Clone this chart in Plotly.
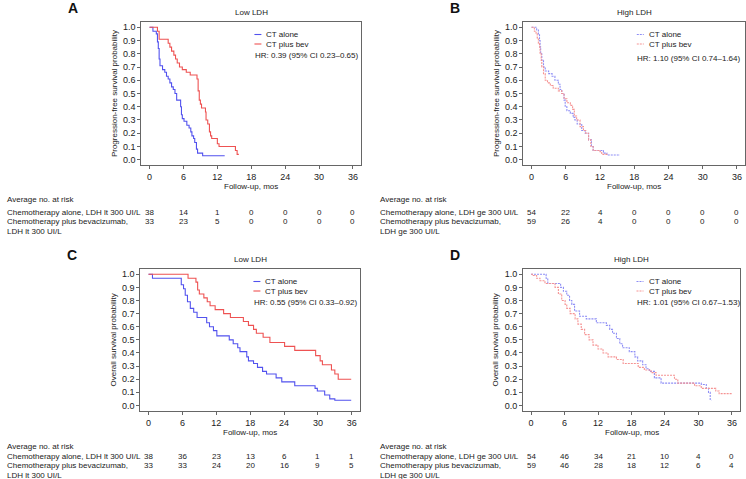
import plotly.graph_objects as go

W, H = 746, 479

# ---------------- data ----------------
x_ticks = [0, 6, 12, 18, 24, 30, 36]
y_ticks = [0.0, 0.1, 0.2, 0.3, 0.4, 0.5, 0.6, 0.7, 0.8, 0.9, 1.0]
risk_times = [0, 6, 12, 18, 24, 30, 36]

# Panel A: PFS, low LDH
a_alone_t = [0, 0.6, 1.2, 1.4, 1.55, 1.7, 1.85, 2.3, 2.7, 3.0, 3.3, 3.6, 3.9, 4.2, 4.5, 4.8,
             5.5, 5.65, 5.8, 6.1, 6.6, 7.0, 7.3, 7.5, 7.8, 8.0, 8.3, 8.5, 9.4, 13.3]
a_alone_s = [1.0, 0.97, 0.95, 0.89, 0.84, 0.76, 0.71, 0.68, 0.66, 0.63, 0.61, 0.58, 0.55, 0.53, 0.50, 0.45,
             0.40, 0.34, 0.31, 0.29, 0.26, 0.24, 0.21, 0.18, 0.16, 0.13, 0.08, 0.05, 0.03, 0.03]
a_bev_t = [0, 1.4, 1.7, 3.3, 3.6, 3.9, 4.3, 4.6, 4.9, 5.3, 5.8, 6.5, 7.2, 8.4, 8.6, 8.8, 9.0, 9.2,
           9.9, 10.0, 10.3, 10.6, 10.8, 11.0, 12.0, 12.3, 15.2, 15.5, 15.8]
a_bev_s = [1.0, 0.97, 0.91, 0.88, 0.85, 0.82, 0.79, 0.76, 0.73, 0.70, 0.68, 0.66, 0.64, 0.61, 0.52, 0.45, 0.42, 0.39,
           0.36, 0.30, 0.27, 0.21, 0.18, 0.16, 0.12, 0.10, 0.07, 0.04, 0.04]

# Panel B: PFS, high LDH
b_alone_t = [0, 0.9, 1.2, 1.4, 1.5, 1.6, 1.8, 2.1, 2.4, 3.0, 3.6, 4.1, 4.7, 5.0, 5.3, 5.7, 5.9, 6.2,
             6.8, 7.3, 7.6, 8.0, 8.8, 9.4, 10.0, 10.5, 10.8, 12.6, 13.2, 15.5]
b_alone_s = [1.0, 0.98, 0.95, 0.90, 0.85, 0.80, 0.75, 0.70, 0.67, 0.65, 0.63, 0.60, 0.57, 0.53, 0.50, 0.45, 0.40, 0.37,
             0.35, 0.32, 0.30, 0.27, 0.22, 0.20, 0.15, 0.10, 0.07, 0.05, 0.035, 0.035]
b_bev_t = [0, 0.5, 0.8, 1.0, 1.2, 1.4, 1.5, 1.7, 1.8, 2.1, 2.4, 2.8, 3.3, 3.8, 4.7, 5.3, 5.7, 6.2,
           6.8, 7.2, 7.5, 7.9, 8.5, 9.1, 9.5, 10.0, 10.4, 10.8, 12.0, 12.3, 13.2]
b_bev_s = [1.0, 0.97, 0.95, 0.92, 0.88, 0.85, 0.80, 0.75, 0.70, 0.65, 0.60, 0.58, 0.56, 0.54, 0.52, 0.50, 0.46, 0.43,
           0.41, 0.38, 0.33, 0.30, 0.25, 0.22, 0.20, 0.15, 0.10, 0.07, 0.06, 0.04, 0.03]

# Panel C: OS, low LDH
c_alone_t = [0, 0.7, 4.5, 5.8, 6.2, 6.5, 6.9, 7.4, 8.0, 8.6, 10.3, 10.8, 11.5, 12.1, 14.3, 15.0, 15.8, 16.2,
             17.4, 17.7, 18.6, 19.3, 20.2, 20.9, 22.6, 23.6, 25.9, 29.5, 29.9, 31.2, 32.1, 33.0, 35.9]
c_alone_s = [1.0, 0.97, 0.97, 0.92, 0.89, 0.84, 0.79, 0.74, 0.71, 0.67, 0.63, 0.60, 0.57, 0.53, 0.50, 0.47, 0.44, 0.41,
             0.37, 0.34, 0.32, 0.29, 0.26, 0.24, 0.21, 0.18, 0.15, 0.13, 0.11, 0.08, 0.05, 0.04, 0.04]
c_bev_t = [0, 7.0, 8.4, 8.7, 9.0, 9.8, 10.4, 10.9, 11.8, 13.3, 14.5, 16.8, 17.7, 18.6, 19.1, 20.3, 21.5,
           24.1, 25.9, 29.6, 30.4, 30.8, 32.4, 33.0, 33.6, 35.9]
c_bev_s = [1.0, 0.97, 0.94, 0.88, 0.85, 0.82, 0.79, 0.76, 0.73, 0.70, 0.67, 0.64, 0.61, 0.58, 0.55, 0.52, 0.48,
           0.45, 0.42, 0.38, 0.34, 0.31, 0.27, 0.24, 0.20, 0.20]

# Panel D: OS, high LDH
d_alone_t = [0, 2.7, 3.0, 5.3, 5.8, 6.4, 6.9, 7.3, 7.8, 8.7, 9.9, 11.7, 13.5, 14.1, 14.6, 15.3, 15.9, 16.4,
             17.6, 18.6, 19.1, 20.0, 20.6, 21.2, 22.1, 23.3, 30.5, 31.4, 31.8, 32.1, 32.3]
d_alone_s = [1.0, 0.97, 0.93, 0.90, 0.87, 0.84, 0.80, 0.77, 0.72, 0.68, 0.66, 0.63, 0.61, 0.58, 0.55, 0.51, 0.47, 0.44,
             0.41, 0.37, 0.34, 0.31, 0.28, 0.26, 0.21, 0.17, 0.16, 0.13, 0.10, 0.04, 0.04]
d_bev_t = [0, 0.4, 1.0, 1.6, 2.5, 4.3, 4.9, 5.5, 6.1, 6.4, 7.0, 7.9, 8.4, 9.0, 9.6, 10.4, 11.1, 12.0,
           12.9, 13.8, 15.3, 16.5, 19.2, 20.3, 21.5, 22.4, 25.7, 26.3, 29.3, 30.5, 33.1, 33.7, 36.0]
d_bev_s = [1.0, 0.99, 0.97, 0.95, 0.93, 0.90, 0.85, 0.80, 0.77, 0.74, 0.70, 0.66, 0.62, 0.58, 0.54, 0.50, 0.46, 0.43,
           0.40, 0.37, 0.35, 0.32, 0.29, 0.27, 0.25, 0.23, 0.20, 0.17, 0.15, 0.13, 0.11, 0.09, 0.09]

# numbers at risk
a_risk_alone = [38, 14, 1, 0, 0, 0, 0]
a_risk_bev = [33, 23, 5, 0, 0, 0, 0]
b_risk_alone = [54, 22, 4, 0, 0, 0, 0]
b_risk_bev = [59, 26, 4, 0, 0, 0, 0]
c_risk_alone = [38, 36, 23, 13, 6, 1, 1]
c_risk_bev = [33, 33, 24, 20, 16, 9, 5]
d_risk_alone = [54, 46, 34, 21, 10, 4, 0]
d_risk_bev = [59, 46, 28, 18, 12, 6, 4]

panel_letters = ["A", "B", "C", "D"]
panel_titles = ["Low LDH", "High LDH", "Low LDH", "High LDH"]
y_titles = ["Progression-free survival probability", "Progression-free survival probability",
            "Overall survival probability", "Overall survival probability"]
hr_texts = ["HR: 0.39 (95% CI 0.23\u20130.65)", "HR: 1.10 (95% CI 0.74\u20131.64)",
            "HR: 0.55 (95% CI 0.33\u20130.92)", "HR: 1.01 (95% CI 0.67\u20131.53)"]
series_names = ["CT alone", "CT plus bev"]
low_rows = ["Chemotherapy alone, LDH lt 300 UI/L", "Chemotherapy plus bevacizumab,", "LDH lt 300 UI/L"]
high_rows = ["Chemotherapy alone, LDH ge 300 UI/L", "Chemotherapy plus bevacizumab,", "LDH ge 300 UI/L"]

# ---------------- styling / layout ----------------
FONT = "Liberation Sans, Arial, Helvetica, sans-serif"
TXT = "#222222"
AX = "#666666"
BLUE, RED = "#5252ee", "#ee5252"
BLUE_L, RED_L = "#8d8df5", "#f59393"

# pixel geometry for each panel: frame left/right (x at -1.44 and 37.44), frame top/bottom
panels = [
    dict(x0=141.4, x1=361.1, top=22.0, bot=165.0, col=0, row=0),
    dict(x0=523.3, x1=745.2, top=22.0, bot=165.0, col=1, row=0),
    dict(x0=140.4, x1=359.9, top=269.0, bot=410.7, col=0, row=1),
    dict(x0=523.0, x1=740.0, top=269.0, bot=410.7, col=1, row=1),
]

curves = [
    (a_alone_t, a_alone_s, a_bev_t, a_bev_s),
    (b_alone_t, b_alone_s, b_bev_t, b_bev_s),
    (c_alone_t, c_alone_s, c_bev_t, c_bev_s),
    (d_alone_t, d_alone_s, d_bev_t, d_bev_s),
]
risks = [
    (a_risk_alone, a_risk_bev), (b_risk_alone, b_risk_bev),
    (c_risk_alone, c_risk_bev), (d_risk_alone, d_risk_bev),
]


def fx(px):
    return px / W


def fy(py):
    return 1 - py / H


fig = go.Figure()
annotations = []
shapes = []
layout = {}

for i, p in enumerate(panels):
    k = "" if i == 0 else str(i + 1)
    xa, ya = "x" + k, "y" + k
    light = p["col"] == 1
    ta, sa, tb, sb = curves[i]
    fig.add_trace(go.Scatter(x=ta, y=sa, mode="lines", line_shape="hv", xaxis=xa, yaxis=ya,
                             name=series_names[0], showlegend=False,
                             line=dict(color=BLUE_L if light else BLUE, width=1.1,
                                       dash="2px,1px" if light else "solid")))
    fig.add_trace(go.Scatter(x=tb, y=sb, mode="lines", line_shape="hv", xaxis=xa, yaxis=ya,
                             name=series_names[1], showlegend=False,
                             line=dict(color=RED_L if light else RED, width=1.1,
                                       dash="2px,1px" if light else "solid")))

    layout["xaxis" + k] = dict(
        domain=[fx(p["x0"]), fx(p["x1"])], range=[-1.44, 37.44], anchor=ya,
        tickmode="array", tickvals=x_ticks, ticktext=[str(v) for v in x_ticks],
        showline=True, mirror=True, linecolor=AX, linewidth=1,
        ticks="outside", ticklen=3, tickcolor=AX, tickwidth=1,
        showgrid=False, zeroline=False, tickfont=dict(size=9, color=TXT, family=FONT),
    )
    layout["yaxis" + k] = dict(
        domain=[fy(p["bot"]), fy(p["top"])], range=[-0.04, 1.04], anchor=xa,
        tickmode="array", tickvals=y_ticks, ticktext=["%.1f" % v for v in y_ticks],
        showline=True, mirror=True, linecolor=AX, linewidth=1,
        ticks="outside", ticklen=3, tickcolor=AX, tickwidth=1,
        showgrid=False, zeroline=False, tickfont=dict(size=9, color=TXT, family=FONT),
        title=dict(text=y_titles[i], font=dict(size=8, color=TXT, family=FONT), standoff=4),
    )

    cx = (p["x0"] + p["x1"]) / 2
    # panel title
    annotations.append(dict(text=panel_titles[i], x=fx(cx), y=fy(p["top"] - 9.5), xref="paper", yref="paper",
                            showarrow=False, xanchor="center", yanchor="middle",
                            font=dict(size=8, color=TXT, family=FONT)))
    # panel letter
    annotations.append(dict(text="<b>%s</b>" % panel_letters[i], x=fx(p["x0"] - 68.5), y=fy(p["top"] - 13.5),
                            xref="paper", yref="paper", showarrow=False, xanchor="center", yanchor="middle",
                            font=dict(size=14, color="#111111", family=FONT)))
    # x-axis title
    annotations.append(dict(text="Follow-up, mos", x=fx(cx), y=fy(p["bot"] + 21.8), xref="paper", yref="paper",
                            showarrow=False, xanchor="center", yanchor="middle",
                            font=dict(size=8, color=TXT, family=FONT)))
    # legend (inside panel, top right)
    lx = p["x0"] + (111.5 if not light else 112.0)
    ly1 = p["top"] + 12.5
    ly2 = p["top"] + 22.0
    lhr = p["top"] + (33.5 if i != 1 else 36.0)
    for j, (lyy, col) in enumerate([(ly1, BLUE_L if light else BLUE), (ly2, RED_L if light else RED)]):
        shapes.append(dict(type="line", xref="paper", yref="paper", x0=fx(lx + 1.5), x1=fx(lx + 8.5),
                           y0=fy(lyy), y1=fy(lyy),
                           line=dict(color=col, width=1.1, dash="2px,1px" if light else "solid")))
        annotations.append(dict(text=series_names[j], x=fx(lx + 11.5), y=fy(lyy), xref="paper", yref="paper",
                                showarrow=False, xanchor="left", yanchor="middle",
                                font=dict(size=8, color=TXT, family=FONT)))
    annotations.append(dict(text=hr_texts[i], x=fx(lx), y=fy(lhr), xref="paper", yref="paper",
                            showarrow=False, xanchor="left", yanchor="middle",
                            font=dict(size=8, color=TXT, family=FONT)))

    # number-at-risk table
    left = 5 if p["col"] == 0 else 378
    if p["row"] == 0:
        rows_y = [199.3, 212.0, 221.7, 231.3]
    else:
        rows_y = [446.5, 456.5, 465.8, 475.0]
    row_labels = low_rows if p["col"] == 0 else high_rows
    annotations.append(dict(text="Average no. at risk", x=fx(left), y=fy(rows_y[0]), xref="paper", yref="paper",
                            showarrow=False, xanchor="left", yanchor="middle",
                            font=dict(size=8, color=TXT, family=FONT)))
    for r in range(3):
        annotations.append(dict(text=row_labels[r], x=fx(left), y=fy(rows_y[r + 1]), xref="paper", yref="paper",
                                showarrow=False, xanchor="left", yanchor="middle",
                                font=dict(size=8, color=TXT, family=FONT)))
    for r, vals in enumerate(risks[i]):
        for t, v in zip(risk_times, vals):
            annotations.append(dict(text=str(v), x=t, y=fy(rows_y[r + 1]), xref=xa, yref="paper",
                                    showarrow=False, xanchor="center", yanchor="middle",
                                    font=dict(size=8, color=TXT, family=FONT)))

fig.update_layout(
    width=W, height=H, margin=dict(l=0, r=0, t=0, b=0),
    paper_bgcolor="white", plot_bgcolor="white",
    font=dict(family=FONT, size=8, color=TXT),
    annotations=annotations, shapes=shapes, showlegend=False,
    **layout,
)

fig.write_html(
    "out.html",
    config={"displayModeBar": False},
    post_script="document.body.style.margin='0';document.body.style.overflow='hidden';",
)
